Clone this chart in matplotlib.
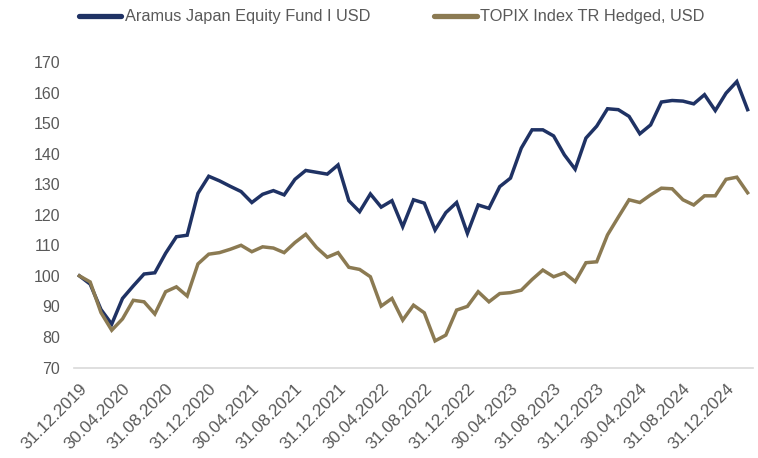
import matplotlib
matplotlib.use("Agg")
import matplotlib.pyplot as plt
import pandas as pd

plt.rcParams['font.family'] = ['Liberation Sans', 'DejaVu Sans']

dates = pd.date_range("2019-12-31", "2025-02-28", freq="ME")
date_labels = [d.strftime("%d.%m.%Y") for d in dates]

fund = [100.0, 97.3, 89.0, 84.2, 92.6, 96.7, 100.6, 101.0, 107.4, 112.8, 113.3, 127.0,
        132.6, 131.1, 129.3, 127.6, 124.0, 126.7, 127.9, 126.5, 131.6, 134.5, 133.9, 133.3,
        136.3, 124.6, 121.0, 126.8, 122.5, 124.6, 116.1, 124.9, 123.8, 115.0, 120.7, 124.0,
        113.9, 123.2, 122.1, 129.2, 132.0, 141.8, 147.8, 147.8, 145.8, 139.6, 134.9, 145.1,
        149.0, 154.7, 154.4, 152.2, 146.5, 149.4, 156.9, 157.4, 157.2, 156.3, 159.3, 154.1,
        159.8, 163.6, 154.4]

topix = [100.0, 98.0, 88.0, 82.2, 85.9, 92.0, 91.5, 87.5, 94.8, 96.4, 93.4, 103.9,
         107.1, 107.6, 108.7, 110.0, 107.9, 109.5, 109.1, 107.6, 110.9, 113.6, 109.3, 106.1,
         107.6, 102.8, 102.1, 99.7, 90.1, 92.6, 85.5, 90.4, 87.9, 78.7, 80.6, 88.8,
         90.0, 94.8, 91.5, 94.2, 94.5, 95.3, 98.8, 101.9, 99.7, 101.0, 98.1, 104.3,
         104.6, 113.4, 119.2, 124.9, 124.0, 126.5, 128.7, 128.5, 124.9, 123.2, 126.2, 126.2,
         131.6, 132.3, 127.2]

series_names = ["Aramus Japan Equity Fund I USD", "TOPIX Index TR Hedged, USD"]
colors = ["#1F3264", "#8B7A52"]
yticks = list(range(70, 171, 10))

fig = plt.figure(figsize=(7.58, 4.58), dpi=100)
ax = fig.add_axes([74/758, 1-367.5/458, 679/758, 305.5/458])

x = list(range(len(dates)))
ax.plot(x, fund, color=colors[0], lw=2.5, label=series_names[0], solid_joinstyle='miter')
ax.plot(x, topix, color=colors[1], lw=2.5, label=series_names[1], solid_joinstyle='miter')

ax.set_xlim(-0.5, len(dates) - 0.5)
ax.set_ylim(70, 170)
ax.set_yticks(yticks)
ax.set_yticklabels([str(v) for v in yticks], fontsize=11.5, color="#595959")
tick_idx = list(range(0, len(dates), 4))
ax.set_xticks(tick_idx)
ax.set_xticklabels([date_labels[i] for i in tick_idx], rotation=45, ha='right',
                   rotation_mode='anchor', fontsize=12.3, color="#595959")
for lab in ax.get_xticklabels():
    lab.set_x(lab.get_position()[0])
ax.tick_params(axis='both', length=0)
ax.tick_params(axis='y', pad=10)
ax.tick_params(axis='x', pad=10)

for s in ['top', 'right', 'left']:
    ax.spines[s].set_visible(False)
ax.spines['bottom'].set_color("#D9D9D9")
ax.spines['bottom'].set_linewidth(1.2)

leg = fig.legend(loc='center', bbox_to_anchor=(391.5/758, 1-17/458), ncol=2, frameon=False,
                 fontsize=11.8, handlelength=2.6, handletextpad=0.2, columnspacing=3.9)
for t in leg.get_texts():
    t.set_color("#595959")
for h in leg.get_lines():
    h.set_linewidth(3.8)
    h.set_solid_capstyle('round')

fig.savefig("out.png", dpi=100)
